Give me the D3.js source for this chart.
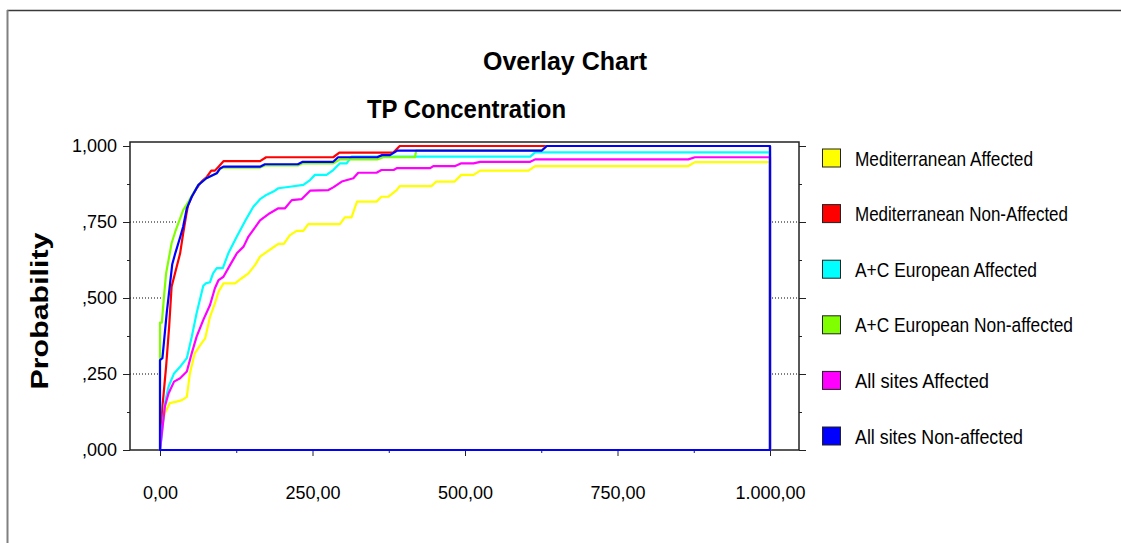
<!DOCTYPE html>
<html>
<head>
<meta charset="utf-8">
<script src="https://cdn.jsdelivr.net/npm/d3@7"></script>
<style>
  html, body { margin: 0; padding: 0; background: #fff; }
  svg { display: block; font-family: "Liberation Sans", Arial, sans-serif; }
</style>
</head>
<body>
<svg id="chart" width="1121" height="543"></svg>
<script>
// cumulative probability curves, [TP concentration, probability]
var medAffected = [[0,0],[1,0.066],[3,0.077],[8,0.121],[16,0.154],[27,0.159],[36,0.164],[44,0.175],[49,0.252],[57,0.318],[66,0.345],[74,0.367],[82,0.438],[90,0.482],[96,0.521],[104,0.548],[123,0.548],[134,0.565],[145,0.581],[156,0.609],[164,0.636],[175,0.652],[186,0.667],[194,0.678],[203,0.678],[213,0.707],[224,0.721],[235,0.721],[243,0.743],[295,0.743],[303,0.765],[314,0.765],[323,0.817],[355,0.817],[363,0.833],[374,0.833],[388,0.855],[393,0.868],[445,0.868],[453,0.883],[483,0.883],[494,0.905],[514,0.905],[525,0.919],[604,0.919],[615,0.934],[866,0.934],[877,0.947],[1000,0.947]];
var medNonAffected = [[0,0],[4,0.143],[10,0.274],[15,0.406],[19,0.537],[26,0.592],[33,0.647],[38,0.713],[43,0.773],[46,0.806],[52,0.833],[60,0.861],[68,0.883],[77,0.899],[84,0.919],[90,0.919],[96,0.932],[104,0.950],[164,0.950],[174,0.963],[284,0.963],[294,0.978],[382,0.978],[393,1.0],[1000,1.0]];
var acAffected = [[0,0],[3,0.049],[8,0.154],[14,0.208],[23,0.252],[33,0.274],[44,0.302],[52,0.372],[60,0.45],[71,0.54],[75,0.548],[82,0.552],[87,0.581],[93,0.598],[103,0.598],[112,0.647],[126,0.702],[142,0.762],[153,0.80],[164,0.825],[175,0.840],[186,0.85],[194,0.861],[213,0.866],[235,0.872],[246,0.888],[254,0.905],[273,0.905],[284,0.921],[295,0.943],[306,0.943],[314,0.965],[607,0.965],[615,0.979],[1000,0.979]];
var acNonAffected = [[0,0],[0,0.419],[3,0.419],[7,0.515],[10,0.581],[14,0.625],[19,0.68],[25,0.718],[33,0.762],[38,0.789],[45,0.811],[52,0.836],[63,0.872],[76,0.894],[93,0.91],[98,0.925],[104,0.929],[164,0.929],[172,0.936],[226,0.936],[234,0.943],[284,0.943],[295,0.956],[356,0.956],[366,0.963],[418,0.963],[420,0.985],[626,0.985],[634,1.0],[1000,1.0]];
var allAffected = [[0,0],[3,0.055],[8,0.143],[14,0.186],[23,0.225],[33,0.236],[44,0.258],[52,0.318],[60,0.373],[71,0.428],[82,0.477],[90,0.532],[96,0.559],[104,0.57],[115,0.609],[126,0.647],[137,0.669],[145,0.702],[164,0.755],[180,0.779],[194,0.795],[205,0.795],[216,0.822],[232,0.825],[246,0.853],[276,0.855],[284,0.864],[298,0.883],[317,0.894],[325,0.912],[355,0.912],[363,0.921],[383,0.921],[388,0.927],[443,0.927],[448,0.934],[484,0.934],[494,0.943],[514,0.943],[525,0.948],[607,0.948],[615,0.956],[866,0.956],[877,0.963],[1000,0.963]];
var allNonAffected = [[0,0],[0,0.296],[4,0.302],[11,0.45],[20,0.61],[25,0.647],[33,0.70],[38,0.735],[44,0.795],[52,0.833],[63,0.872],[76,0.894],[93,0.91],[98,0.925],[104,0.932],[164,0.932],[172,0.940],[226,0.940],[234,0.948],[284,0.948],[292,0.963],[356,0.963],[364,0.970],[377,0.970],[389,0.985],[626,0.985],[634,1.0],[1000,1.0]];

var seriesNames = ["Mediterranean Affected", "Mediterranean Non-Affected", "A+C European Affected", "A+C European Non-affected", "All sites Affected", "All sites Non-affected"];
var seriesColors = ["#ffff00", "#ff0000", "#00ffff", "#80ff00", "#ff00ff", "#0000ff"];
var seriesData = [medAffected, medNonAffected, acAffected, acNonAffected, allAffected, allNonAffected];
var legendWidths = [178, 213, 182, 218, 134, 168];

var xTicks = [0, 250, 500, 750, 1000];
var xTickLabels = ["0,00", "250,00", "500,00", "750,00", "1.000,00"];
var xMinorTicks = [125, 375, 625, 875];
var yTicks = [0, 0.25, 0.5, 0.75, 1];
var yTickLabels = [",000", ",250", ",500", ",750", "1,000"];
var yMinorTicks = [0.125, 0.375, 0.625, 0.875];

var svg = d3.select("#chart");
var frame = {left: 130, right: 799, top: 142, bottom: 450};

var x = d3.scaleLinear().domain([0, 1000]).range([160, 770]);
var y = d3.scaleLinear().domain([0, 1]).range([450, 146]);

// page border
svg.append("line")
  .attr("x1", 7).attr("y1", 10.5).attr("x2", 1121).attr("y2", 10.5)
  .style("stroke", "#3a3a3a").style("stroke-width", 1.5);
svg.append("line")
  .attr("x1", 7.5).attr("y1", 10).attr("x2", 7.5).attr("y2", 543)
  .style("stroke", "#808080").style("stroke-width", 2);

// titles
svg.append("text")
  .attr("x", 483).attr("y", 70)
  .attr("textLength", 164).attr("lengthAdjust", "spacingAndGlyphs")
  .style("font-weight", "bold").style("font-size", "25px")
  .text("Overlay Chart");
svg.append("text")
  .attr("x", 367).attr("y", 118)
  .attr("textLength", 199).attr("lengthAdjust", "spacingAndGlyphs")
  .style("font-weight", "bold").style("font-size", "25px")
  .text("TP Concentration");

svg.append("text")
  .attr("transform", "translate(48,311) rotate(-90)")
  .attr("text-anchor", "middle")
  .attr("textLength", 157).attr("lengthAdjust", "spacingAndGlyphs")
  .style("font-weight", "bold").style("font-size", "24px")
  .text("Probability");

// dotted grid
svg.selectAll("line.grid")
  .data(yTicks.filter(function(t) { return t > 0 && t < 1; }))
  .enter().append("line")
  .attr("class", "grid")
  .attr("x1", frame.left).attr("x2", frame.right)
  .attr("y1", function(d) { return y(d); })
  .attr("y2", function(d) { return y(d); })
  .style("stroke", "#000").style("stroke-width", 1)
  .style("stroke-dasharray", "1,2");

// axes
function styleAxis(g) {
  g.select(".domain").remove();
  g.selectAll("line").style("stroke", "#222");
  g.attr("font-size", null).attr("font-family", null);
  g.selectAll("text").style("font-size", "18px").style("fill", "#000");
}

svg.append("g")
  .attr("transform", "translate(" + frame.left + ",0)")
  .call(d3.axisLeft(y).tickValues(yTicks).tickSize(7).tickPadding(6)
    .tickFormat(function(d, i) { return yTickLabels[i]; }))
  .call(styleAxis);
svg.append("g")
  .attr("transform", "translate(" + frame.left + ",0)")
  .call(d3.axisLeft(y).tickValues(yMinorTicks).tickSize(3).tickFormat(""))
  .call(styleAxis);
svg.append("g")
  .attr("transform", "translate(" + frame.right + ",0)")
  .call(d3.axisRight(y).tickValues(yTicks).tickSize(7).tickFormat(""))
  .call(styleAxis);
svg.append("g")
  .attr("transform", "translate(" + frame.right + ",0)")
  .call(d3.axisRight(y).tickValues(yMinorTicks).tickSize(3).tickFormat(""))
  .call(styleAxis);
svg.append("g")
  .attr("transform", "translate(0," + frame.bottom + ")")
  .call(d3.axisBottom(x).tickValues(xTicks).tickSize(6).tickPadding(30)
    .tickFormat(function(d, i) { return xTickLabels[i]; }))
  .call(styleAxis);
svg.append("g")
  .attr("transform", "translate(0," + frame.bottom + ")")
  .call(d3.axisBottom(x).tickValues(xMinorTicks).tickSize(3).tickFormat(""))
  .call(styleAxis);

svg.append("rect")
  .attr("x", frame.left).attr("y", frame.top)
  .attr("width", frame.right - frame.left).attr("height", frame.bottom - frame.top)
  .style("fill", "none").style("stroke", "#222").style("stroke-width", 1.5);

// each curve is a closed white area, so it hides the grid below it
var line = d3.line()
  .x(function(d) { return x(d[0]); })
  .y(function(d) { return y(d[1]); });

function closed(pts) {
  var last = pts[pts.length - 1];
  return pts.concat([[last[0], 0]]);
}

svg.selectAll("path.fill")
  .data(seriesData)
  .enter().append("path")
  .attr("class", "fill")
  .attr("d", function(d) { return line(closed(d)) + "Z"; })
  .style("fill", "#fff").style("stroke", "none");

svg.selectAll("path.curve")
  .data(seriesData)
  .enter().append("path")
  .attr("class", "curve")
  .attr("d", function(d) { return line(closed(d)) + "Z"; })
  .style("fill", "none")
  .style("stroke", function(d, i) { return seriesColors[i]; })
  .style("stroke-width", 2.2)
  .style("stroke-linejoin", "round");

// legend
var legend = svg.selectAll("g.legend")
  .data(seriesNames)
  .enter().append("g")
  .attr("class", "legend")
  .attr("transform", function(d, i) { return "translate(822," + (158 + i * 55.6) + ")"; });

legend.append("rect")
  .attr("x", 0.5).attr("y", -9)
  .attr("width", 18).attr("height", 18)
  .style("fill", function(d, i) { return seriesColors[i]; })
  .style("stroke", "#222").style("stroke-width", 1);

legend.append("text")
  .attr("x", 33).attr("y", 7.5)
  .attr("textLength", function(d, i) { return legendWidths[i]; })
  .attr("lengthAdjust", "spacingAndGlyphs")
  .style("font-size", "21px")
  .text(function(d) { return d; });
</script>
</body>
</html>
